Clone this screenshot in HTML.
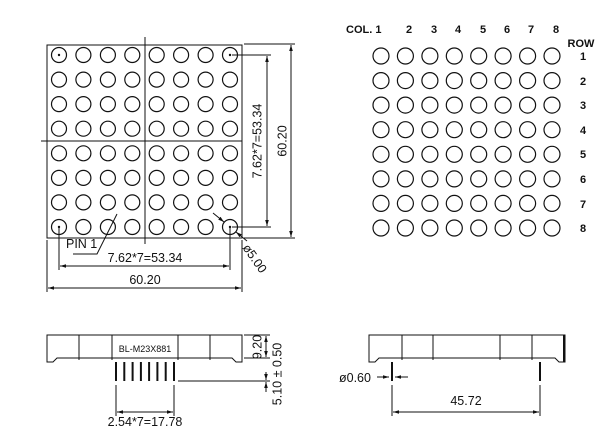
<!DOCTYPE html>
<html><head><meta charset="utf-8"><style>
html,body{margin:0;padding:0;background:#fff}
svg{display:block}
text{font-family:"Liberation Sans",Arial,sans-serif;fill:#111}
</style></head><body>
<svg width="615" height="446" viewBox="0 0 615 446" xmlns="http://www.w3.org/2000/svg">
<defs>
<marker id="a" viewBox="0 0 10 10" refX="10" refY="5" markerWidth="6" markerHeight="6" orient="auto-start-reverse"><path d="M0,2 L10,5 L0,8 z" fill="#111"/></marker>
</defs>
<g stroke="#111" fill="none" stroke-width="1">
<rect x="47" y="45" width="195" height="193"/>
<line x1="145" y1="37" x2="145" y2="244"/>
<line x1="41" y1="141" x2="242" y2="141"/>
<g id="m1" stroke-width="1.2">
<circle cx="59" cy="55" r="7.5"/><circle cx="83.4" cy="55" r="7.5"/><circle cx="107.9" cy="55" r="7.5"/><circle cx="132.3" cy="55" r="7.5"/><circle cx="156.7" cy="55" r="7.5"/><circle cx="181.1" cy="55" r="7.5"/><circle cx="205.6" cy="55" r="7.5"/><circle cx="230" cy="55" r="7.5"/>
</g>
<use href="#m1" y="24.6"/><use href="#m1" y="49.1"/><use href="#m1" y="73.7"/><use href="#m1" y="98.3"/><use href="#m1" y="122.9"/><use href="#m1" y="147.4"/><use href="#m1" y="172"/>
<line x1="232" y1="55" x2="271" y2="55"/>
<line x1="232" y1="227" x2="271" y2="227"/>
<line x1="267" y1="56" x2="267" y2="226" marker-start="url(#a)" marker-end="url(#a)"/>
<line x1="244" y1="44" x2="295" y2="44"/>
<line x1="244" y1="238" x2="295" y2="238"/>
<line x1="291" y1="45" x2="291" y2="237" marker-start="url(#a)" marker-end="url(#a)"/>
<line x1="59" y1="228" x2="59" y2="270"/>
<line x1="230" y1="228" x2="230" y2="270"/>
<line x1="60" y1="266" x2="229" y2="266" marker-start="url(#a)" marker-end="url(#a)"/>
<line x1="47" y1="240" x2="47" y2="292"/>
<line x1="242" y1="240" x2="242" y2="292"/>
<line x1="48" y1="288" x2="241" y2="288" marker-start="url(#a)" marker-end="url(#a)"/>
<polyline points="73,254 97,254 117,214"/>
<line x1="213" y1="213" x2="224" y2="222" marker-end="url(#a)"/>
<line x1="236" y1="232" x2="247" y2="241" marker-start="url(#a)"/>
<g id="m2" stroke-width="1.2">
<circle cx="381" cy="56" r="8"/><circle cx="405.4" cy="56" r="8"/><circle cx="429.9" cy="56" r="8"/><circle cx="454.3" cy="56" r="8"/><circle cx="478.7" cy="56" r="8"/><circle cx="503.1" cy="56" r="8"/><circle cx="527.6" cy="56" r="8"/><circle cx="552" cy="56" r="8"/>
</g>
<use href="#m2" y="24.6"/><use href="#m2" y="49.1"/><use href="#m2" y="73.7"/><use href="#m2" y="98.3"/><use href="#m2" y="122.9"/><use href="#m2" y="147.4"/><use href="#m2" y="172"/>
<path d="M47,335 H242 V362 H236 L232,358 H57 L53,362 H47 Z"/>
<line x1="79" y1="335" x2="79" y2="360"/><line x1="112" y1="335" x2="112" y2="360"/>
<line x1="178" y1="335" x2="178" y2="360"/><line x1="210" y1="335" x2="210" y2="360"/>
<g stroke-width="2">
<line x1="116" y1="362" x2="116" y2="381"/><line x1="124.3" y1="362" x2="124.3" y2="381"/><line x1="132.6" y1="362" x2="132.6" y2="381"/><line x1="140.9" y1="362" x2="140.9" y2="381"/><line x1="149.1" y1="362" x2="149.1" y2="381"/><line x1="157.4" y1="362" x2="157.4" y2="381"/><line x1="165.7" y1="362" x2="165.7" y2="381"/><line x1="174" y1="362" x2="174" y2="381"/>
</g>
<line x1="116" y1="385" x2="116" y2="416"/><line x1="174" y1="385" x2="174" y2="416"/>
<line x1="117" y1="412" x2="173" y2="412" marker-start="url(#a)" marker-end="url(#a)"/>
<line x1="244" y1="335" x2="270" y2="335"/><line x1="244" y1="358" x2="270" y2="358"/>
<line x1="266" y1="336" x2="266" y2="357" marker-start="url(#a)" marker-end="url(#a)"/>
<line x1="178" y1="381" x2="270" y2="381"/>
<line x1="266" y1="372" x2="266" y2="380" marker-end="url(#a)"/>
<line x1="266" y1="392" x2="266" y2="382" marker-end="url(#a)"/>
<path d="M369,335 H565 V362 H559 L555,358 H379 L375,362 H369 Z"/>
<line x1="402" y1="335" x2="402" y2="360"/><line x1="433" y1="335" x2="433" y2="360"/>
<line x1="500" y1="335" x2="500" y2="360"/><line x1="532" y1="335" x2="532" y2="360"/>
<line x1="564" y1="335" x2="564" y2="362" stroke-width="2"/>
<g stroke-width="2"><line x1="392" y1="362" x2="392" y2="381"/><line x1="540" y1="362" x2="540" y2="381"/></g>
<line x1="377" y1="377" x2="389" y2="377" marker-end="url(#a)"/>
<line x1="408" y1="377" x2="395" y2="377" marker-end="url(#a)"/>
<line x1="392" y1="385" x2="392" y2="416"/><line x1="540" y1="385" x2="540" y2="416"/>
<line x1="393" y1="412" x2="539" y2="412" marker-start="url(#a)" marker-end="url(#a)"/>
</g>
<g fill="#111"><circle cx="59" cy="55" r="1.2"/><circle cx="230" cy="55" r="1.2"/><circle cx="59" cy="227" r="1.2"/><circle cx="230" cy="227" r="1.2"/></g>
<g font-size="12.5">
<text x="258" y="141" text-anchor="middle" transform="rotate(-90 258 141)" dominant-baseline="middle">7.62*7=53.34</text>
<text x="283" y="141" text-anchor="middle" transform="rotate(-90 283 141)" dominant-baseline="middle">60.20</text>
<text x="66" y="248">PIN 1</text>
<text x="145" y="262" text-anchor="middle">7.62*7=53.34</text>
<text x="145" y="284" text-anchor="middle">60.20</text>
<text x="254" y="259" text-anchor="middle" transform="rotate(55 254 259)" dominant-baseline="middle">ø5.00</text>
<text x="145" y="426" text-anchor="middle">2.54*7=17.78</text>
<text x="258" y="347" text-anchor="middle" transform="rotate(-90 258 347)" dominant-baseline="middle">9.20</text>
<text x="278" y="374" text-anchor="middle" transform="rotate(-90 278 374)" dominant-baseline="middle">5.10 ± 0.50</text>
<text x="339" y="382">ø0.60</text>
<text x="466" y="405" text-anchor="middle">45.72</text>
</g>
<g font-size="11" font-weight="bold">
<text x="346" y="33">COL. 1</text>
<g text-anchor="middle">
<text x="409" y="33">2</text><text x="434" y="33">3</text><text x="458" y="33">4</text><text x="483" y="33">5</text><text x="507" y="33">6</text><text x="531" y="33">7</text><text x="556" y="33">8</text>
<text x="581" y="47">ROW</text>
<text x="583" y="60">1</text><text x="583" y="85">2</text><text x="583" y="109">3</text><text x="583" y="134">4</text><text x="583" y="158">5</text><text x="583" y="183">6</text><text x="583" y="208">7</text><text x="583" y="232">8</text>
</g>
</g>
<text x="145" y="352" font-size="9" text-anchor="middle">BL-M23X881</text>
</svg>
</body></html>
